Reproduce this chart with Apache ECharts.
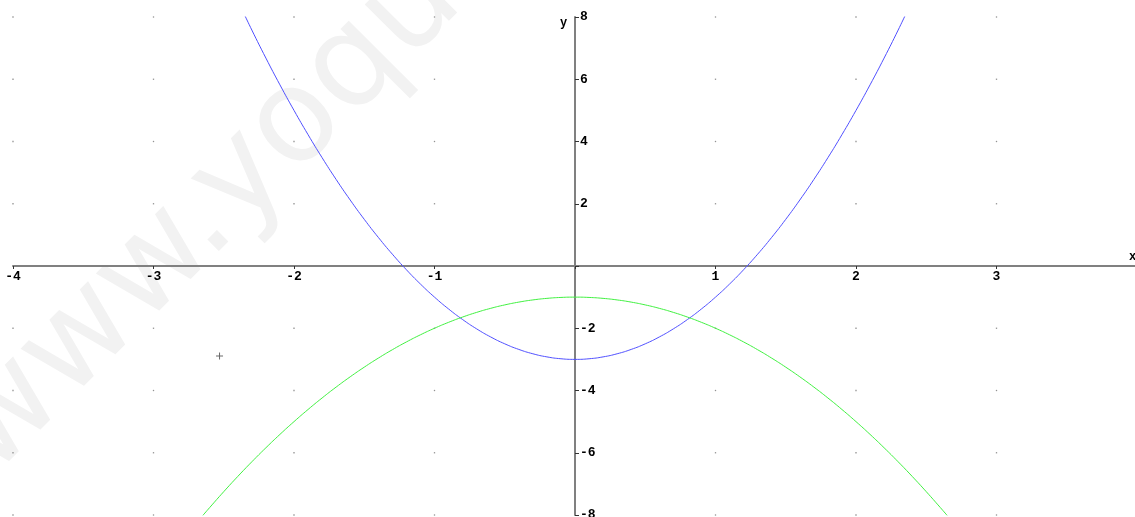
<!DOCTYPE html>
<html>
<head>
<meta charset="utf-8">
<script src="https://cdn.jsdelivr.net/npm/echarts@6/dist/echarts.min.js"></script>
<style>
html,body{margin:0;padding:0;background:#fff;}
#chart{width:1135px;height:517px;}
</style>
</head>
<body>
<div id="chart"></div>
<script>
// Blue curve (upward parabola)
const blueX = [-2.35,-2.3,-2.2,-2.1,-2.0,-1.9,-1.8,-1.7,-1.6,-1.5,-1.4,-1.3,-1.2,-1.1,-1.0,-0.9,-0.8,-0.7,-0.6,-0.5,-0.4,-0.3,-0.2,-0.1,0,
               0.1,0.2,0.3,0.4,0.5,0.6,0.7,0.8,0.9,1.0,1.1,1.2,1.3,1.4,1.5,1.6,1.7,1.8,1.9,2.0,2.1,2.2,2.3,2.35];
const blueY = [8.05,7.58,6.68,5.82,5.0,4.22,3.48,2.78,2.12,1.5,0.92,0.38,-0.12,-0.58,-1.0,-1.38,-1.72,-2.02,-2.28,-2.5,-2.68,-2.82,-2.92,-2.98,-3.0,
               -2.98,-2.92,-2.82,-2.68,-2.5,-2.28,-2.02,-1.72,-1.38,-1.0,-0.58,-0.12,0.38,0.92,1.5,2.12,2.78,3.48,4.22,5.0,5.82,6.68,7.58,8.05];
// Green curve (downward parabola)
const greenX = [-2.65,-2.6,-2.5,-2.4,-2.3,-2.2,-2.1,-2.0,-1.9,-1.8,-1.7,-1.6,-1.5,-1.4,-1.3,-1.2,-1.1,-1.0,-0.9,-0.8,-0.7,-0.6,-0.5,-0.4,-0.3,-0.2,-0.1,0,
                0.1,0.2,0.3,0.4,0.5,0.6,0.7,0.8,0.9,1.0,1.1,1.2,1.3,1.4,1.5,1.6,1.7,1.8,1.9,2.0,2.1,2.2,2.3,2.4,2.5,2.6,2.65];
const greenY = [-8.02,-7.76,-7.25,-6.76,-6.29,-5.84,-5.41,-5.0,-4.61,-4.24,-3.89,-3.56,-3.25,-2.96,-2.69,-2.44,-2.21,-2.0,-1.81,-1.64,-1.49,-1.36,-1.25,-1.16,-1.09,-1.04,-1.01,-1.0,
                -1.01,-1.04,-1.09,-1.16,-1.25,-1.36,-1.49,-1.64,-1.81,-2.0,-2.21,-2.44,-2.69,-2.96,-3.25,-3.56,-3.89,-4.24,-4.61,-5.0,-5.41,-5.84,-6.29,-6.76,-7.25,-7.76,-8.02];
// Grid dot positions
const dotX = [-4,-3,-2,-1,1,2,3,4];
const dotY = [-8,-6,-4,-2,2,4,6,8];
// Cursor cross mark
const crossX = [-2.53];
const crossY = [-2.89];
// Tick labels
const xTickLabels = ['-4','-3','-2','-1','1','2','3'];
const yTickLabels = ['-8','-6','-4','-2','2','4','6','8'];

const zip = (xs, ys) => xs.map((x, i) => [x, ys[i]]);
const dots = [];
dotX.forEach(x => dotY.forEach(y => dots.push([x, y])));

const chart = echarts.init(document.getElementById('chart'), null, {renderer: 'canvas'});
const labelFont = {color: '#000', fontWeight: 'bold', fontSize: 13, fontFamily: 'Liberation Mono'};

chart.setOption({
  animation: false,
  backgroundColor: '#fff',
  grid: {left: 13, top: 17, width: 1124, height: 498, containLabel: false, outerBoundsMode: 'none'},
  xAxis: {
    type: 'value', min: -4, max: 4, interval: 1, position: 'bottom', offset: -249,
    axisLine: {onZero: false, lineStyle: {color: '#808080', width: 2}},
    axisTick: {show: true, length: 3, lineStyle: {color: '#333'}},
    splitLine: {show: false},
    axisLabel: Object.assign({margin: 4, formatter: v => xTickLabels.includes(String(v)) ? String(v) : ''}, labelFont)
  },
  yAxis: {
    type: 'value', min: -8, max: 8, interval: 2, position: 'left', offset: -562,
    axisLine: {onZero: false, lineStyle: {color: '#808080', width: 2}},
    axisTick: {show: true, inside: true, length: 4, lineStyle: {color: '#333'}},
    splitLine: {show: false},
    axisLabel: Object.assign({inside: true, margin: 5, formatter: v => yTickLabels.includes(String(v)) ? String(v) : ''}, labelFont)
  },
  graphic: [
    {type: 'text', z: -10, silent: true, x: 14, y: 500, rotation: Math.PI / 4,
      style: {text: 'www.yoquan.com', fontSize: 130, fontFamily: 'DejaVu Sans', fill: '#f2f2f2', align: 'left', verticalAlign: 'bottom'}},
    {type: 'text', x: 560, y: 17, style: {text: 'y', font: 'bold 12px Liberation Mono', fill: '#000'}},
    {type: 'text', x: 1129, y: 251, style: {text: 'x', font: 'bold 12px Liberation Mono', fill: '#000'}}
  ],
  series: [
    {type: 'scatter', data: dots, symbol: 'rect', symbolSize: 1.3, itemStyle: {color: '#777'}, silent: true, z: 1},
    {type: 'scatter', data: zip(crossX, crossY), symbol: 'path://M3,0H4V3H7V4H4V7H3V4H0V3H3Z', symbolSize: 7, itemStyle: {color: '#444'}, silent: true},
    {type: 'line', data: zip(blueX, blueY), smooth: true, showSymbol: false, clip: true, lineStyle: {color: '#5050ff', width: 1}},
    {type: 'line', data: zip(greenX, greenY), smooth: true, showSymbol: false, clip: true, lineStyle: {color: '#40f040', width: 1}}
  ]
});
</script>
</body>
</html>
